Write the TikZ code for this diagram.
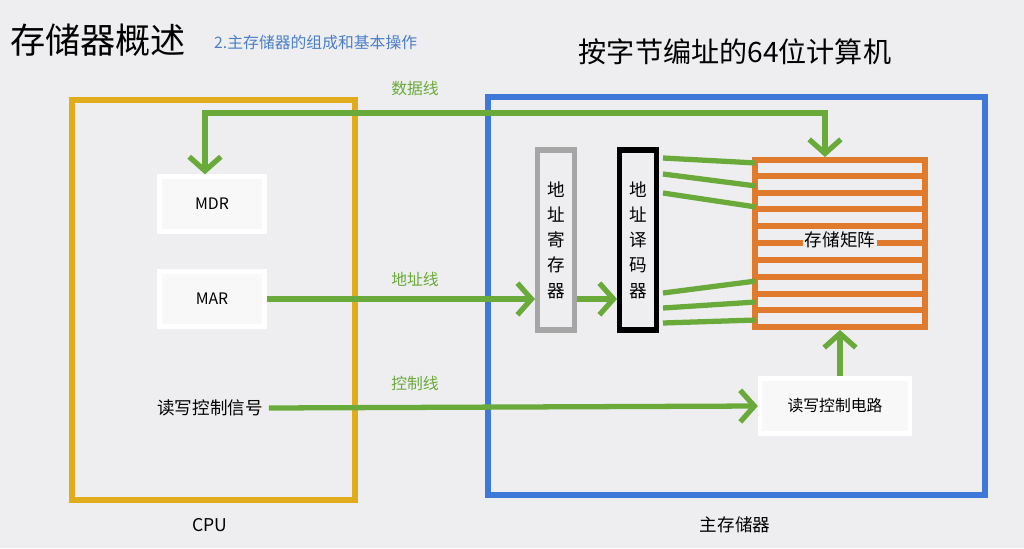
\documentclass[tikz,border=0pt]{standalone}
\usepackage{fontspec}
\setmainfont{Noto Sans CJK SC}
\usetikzlibrary{positioning, arrows.meta}
\definecolor{bg}{HTML}{EEEEF0}
\definecolor{cpuyellow}{HTML}{E0AC1C}
\definecolor{memblue}{HTML}{3E78D8}
\definecolor{wire}{HTML}{6AAA3A}
\definecolor{cellorange}{HTML}{E07A2C}
\definecolor{titleblue}{HTML}{4A7FC8}
\tikzset{
    unitbox/.style={draw=white, fill=white!60!bg, line width=2.5pt, minimum width=2.1cm, minimum height=1.1cm, font=\small},
    regbox/.style={draw=#1, line width=3pt, fill=bg, minimum height=3.6cm, text width=0.5cm, align=center, font=\linespread{1.2}\selectfont},
    bus/.style={draw=wire, line width=3pt, -{Straight Barb[length=8pt, width=18pt, line width=3pt]}},
    bothbus/.style={draw=wire, line width=3pt, {Straight Barb[length=8pt, width=18pt, line width=3pt]}-{Straight Barb[length=8pt, width=18pt, line width=3pt]}},
    wirelabel/.style={text=wire, font=\small},
}
\begin{document}
\begin{tikzpicture}[x=0.02cm, y=-0.02cm]
        \fill[bg] (0, 0) rectangle (1024, 548);
        \useasboundingbox (0, 0) rectangle (1024, 548);
        % headings
        \node[anchor=west, font=\fontsize{20}{24}\selectfont] (title) at (4, 40) {存储器概述};
        \node[anchor=west, text=titleblue, font=\small] (subtitle) at (208, 43) {2.主存储器的组成和基本操作};
        \node[font=\fontsize{16}{19}\selectfont] (machine) at (735, 52) {按字节编址的64位计算机};
        % CPU and main memory
        \draw[cpuyellow, line width=3pt] (72, 100) rectangle (355, 500);
        \node (cpu) at (210, 525) {CPU};
        \draw[memblue, line width=3pt] (488, 97) rectangle (985, 495);
        \node (mem) at (735, 525) {主存储器};
        \node[unitbox] (mdr) at (212, 204) {MDR};
        \node[unitbox] (mar) at (212, 299) {MAR};
        \node (rwsig) at (210, 408) {读写控制信号};
        \node[regbox=gray!70] (areg) at (556, 240) {地\\址\\寄\\存\\器};
        \node[regbox=black] (adec) at (638, 240) {地\\址\\译\\码\\器};
        \node[unitbox, minimum width=3cm] (rwcirc) at (835, 406) {读写控制电路};
        % storage matrix
        \draw[cellorange, line width=3pt] (755, 160) rectangle (925, 327);
        \foreach \y in {176, 193, 209, 226, 243, 260, 277, 294, 310} {
            \draw[cellorange, line width=3pt] (755, \y) -- (925, \y);
        }
        \node[fill=bg, inner sep=1pt] (store) at (840, 240) {存储矩阵};
        \coordinate (mtop) at (825, 157);
        \coordinate (mbot) at (840, 330);
        % buses
        \draw[bothbus] (mtop) -- (825, 113) -- (205, 113) -- (mdr.north -| 205, 0);
        \node[wirelabel] (dline) at (415, 88) {数据线};
        \draw[bus] (mar.east) -- (areg.west |- mar.east);
        \node[wirelabel] (aline) at (415, 279) {地址线};
        \draw[bus] (areg.east |- mar.east) -- (adec.west |- mar.east);
        \draw[bus] (rwsig.east) -- (rwcirc.west);
        \node[wirelabel] (cline) at (415, 383) {控制线};
        \draw[bus] (rwcirc.north -| mbot) -- (mbot);
        \foreach \a/\b in {158/163, 174/186, 193/207, 293/281, 308/302, 323/320} {
            \draw[wire, line width=3pt] (663, \a) -- (756, \b);
        }
    \end{tikzpicture}
\end{document}
